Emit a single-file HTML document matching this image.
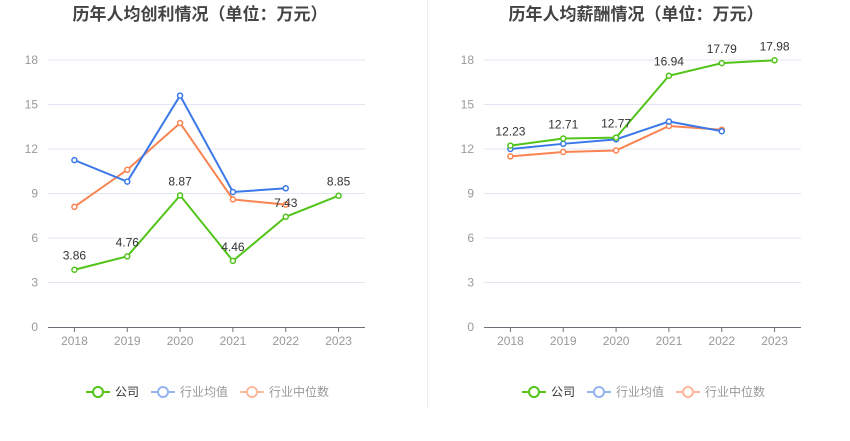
<!DOCTYPE html>
<html><head><meta charset="utf-8"><style>
body{margin:0;background:#fff;font-family:"Liberation Sans","Noto Sans CJK SC",sans-serif;}
svg text{font-family:"Liberation Sans","Noto Sans CJK SC",sans-serif;}
</style></head><body>
<svg id="s" width="850" height="436" xmlns="http://www.w3.org/2000/svg">
<line x1="427.5" y1="0" x2="427.5" y2="408" stroke="#eeeeee"/>
</svg>
<script>
const years=["2018","2019","2020","2021","2022","2023"];
const yTicks=[0,3,6,9,12,15,18];
const profitCompany=[3.86,4.76,8.87,4.46,7.43,8.85];
const profitAvg=[11.25,9.8,15.6,9.1,9.35];
const profitMedian=[8.1,10.6,13.75,8.6,8.25];
const salaryCompany=[12.23,12.71,12.77,16.94,17.79,17.98];
const salaryAvg=[12.0,12.35,12.65,13.85,13.2];
const salaryMedian=[11.5,11.8,11.9,13.55,13.3];
const legendNames=["公司","行业均值","行业中位数"];
const colors=["#52c41a","#3a78e8","#fa8451"];
const lightColors=["#52c41a","#93b4f0","#fbb99a"];
const NS="http://www.w3.org/2000/svg";
const svg=document.getElementById('s');
function mk(tag,attrs,parent){const e=document.createElementNS(NS,tag);for(const k in attrs)e.setAttribute(k,attrs[k]);(parent||svg).appendChild(e);return e;}
function chart(ox,title,series,key){
  const g=mk('g',{});
  
  
  const x0=ox+48,x1=ox+365,yb=327,yt=60;
  const bw=(x1-x0)/years.length;
  const X=i=>x0+bw*(i+0.5);
  const Y=v=>yb-(v/18)*(yb-yt);
  const t=mk('text',{x:ox+200,y:20,'text-anchor':'middle','font-size':17,'font-weight':'bold',fill:'#444'},g);
  t.textContent=title;
  
  
  yTicks.forEach(v=>{
    if(v>0){const l=mk('line',{x1:x0,x2:x1,y1:Y(v),y2:Y(v),stroke:'#e0e6f1'},g);
      
      }
    const tx=mk('text',{x:x0-10,y:Y(v)+4,'text-anchor':'end','font-size':12,fill:'#999'},g);
    tx.textContent=v;
    
    
  });
  const ax=mk('line',{x1:x0,x2:x1,y1:yb+0.5,y2:yb+0.5,stroke:'#6e7079'},g);
  
  
  years.forEach((yr,i)=>{
    const tk=mk('line',{x1:X(i),x2:X(i),y1:yb,y2:yb+5,stroke:'#6e7079'},g);
    
    
    const tx=mk('text',{x:X(i),y:yb+18,'text-anchor':'middle','font-size':12,fill:'#999'},g);
    tx.textContent=yr;
    
    
  });
  [2,1,0].forEach(si=>{
    const d=series[si];
    const pts=d.map((v,i)=>X(i)+','+Y(v)).join(' ');
    const pl=mk('polyline',{points:pts,fill:'none',stroke:colors[si],'stroke-width':2},g);
    
    
    d.forEach((v,i)=>{
      const c=mk('circle',{cx:X(i),cy:Y(v),r:2.5,fill:'#fff',stroke:colors[si],'stroke-width':1.5},g);
      
      
      if(si===0){
        const lb=mk('text',{x:X(i),y:Y(v)-10,'text-anchor':'middle','font-size':12,fill:'#333'},g);
        lb.textContent=v.toFixed(2);
        
        
      }
    });
  });
  const lx=[ox+86,ox+151,ox+240];
  legendNames.forEach((n,i)=>{
    const lg=mk('g',{},g);
    
    
    mk('line',{x1:lx[i],x2:lx[i]+24,y1:392,y2:392,stroke:lightColors[i],'stroke-width':2},lg);
    mk('circle',{cx:lx[i]+12,cy:392,r:5,fill:'#fff',stroke:lightColors[i],'stroke-width':2},lg);
    const tx=mk('text',{x:lx[i]+29,y:396,'font-size':12,fill:i===0?'#333':'#999'},lg);
    tx.textContent=n;
  });
}
chart(0,"历年人均创利情况（单位：万元）",[profitCompany,profitAvg,profitMedian],'profit');
chart(436,"历年人均薪酬情况（单位：万元）",[salaryCompany,salaryAvg,salaryMedian],'salary');
</script>
</body></html>
